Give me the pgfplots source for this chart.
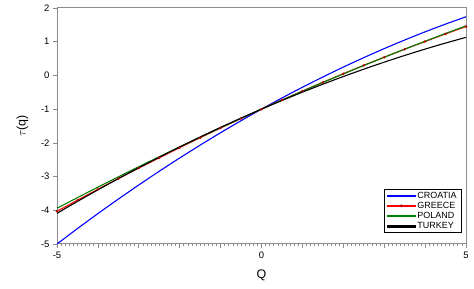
\documentclass[border=0pt]{standalone}
\usepackage{pgfplots}
\pgfplotsset{compat=1.18}
\usepackage{fontspec}
\setmainfont{Liberation Sans}
\begin{document}
\begin{tikzpicture}
\begin{axis}[
  name=ax,
  at={(0,0)}, anchor=south west,
  scale only axis, width=409bp, height=236bp,
  xmin=-5, xmax=5, ymin=-5, ymax=2,
  axis line style={draw=gray!90, line width=1pt},
  xtick={-5,-4,-3,-2,-1,0,1,2,3,4,5},
  xticklabels={-5,,,,,0,,,,,5},
  minor x tick num=9,
  ytick={-5,-4,-3,-2,-1,0,1,2},
  xtick pos=left, ytick pos=left,
  tick align=outside,
  major tick length=4bp, minor tick length=2.5bp,
  tick style={gray!90, line width=0.7pt},
  ticklabel style={font=\fontsize{9.5}{11}\selectfont},
  /pgf/number format/assume math mode=true,
  xlabel={Q}, ylabel={$\tau$(q)},
  label style={font=\fontsize{12.5}{14}\selectfont},
  xlabel style={yshift=-5bp},
  ylabel style={yshift=6bp},
  legend style={at={(rel axis cs:0.99,0.047)}, anchor=south east,
    font=\fontsize{9}{9}\selectfont, draw=black, line width=0.6pt,
    row sep=0pt, inner xsep=3pt, inner ysep=1.5pt,
    nodes={inner ysep=1.2pt}},
  legend cell align=left,
]
\addplot[blue, line width=1.1pt, smooth, forget plot] coordinates {
(-5,-5.000) (-4.5,-4.543) (-4,-4.099) (-3.5,-3.668) (-3,-3.249) (-2.5,-2.843)
(-2,-2.449) (-1.5,-2.068) (-1,-1.699) (-0.5,-1.343) (0,-1) (0.5,-0.669)
(1,-0.351) (1.5,-0.046) (2,0.247) (2.5,0.527) (3,0.795) (3.5,1.050)
(4,1.293) (4.5,1.523) (5,1.740)};
\addplot[red, line width=1.1pt, smooth, forget plot, mark=*, mark size=0.6pt, mark options={solid, fill=red!70!black, draw=red!70!black}] coordinates {
(-5,-4.030) (-4.5,-3.701) (-4,-3.378) (-3.5,-3.060) (-3,-2.748) (-2.5,-2.443)
(-2,-2.142) (-1.5,-1.848) (-1,-1.560) (-0.5,-1.277) (0,-1) (0.5,-0.729)
(1,-0.464) (1.5,-0.204) (2,0.050) (2.5,0.298) (3,0.540) (3.5,0.776)
(4,1.006) (4.5,1.231) (5,1.450)};
\addplot[green!50!black, line width=1.1pt, smooth, forget plot] coordinates {
(-5,-3.940) (-4.5,-3.625) (-4,-3.314) (-3.5,-3.009) (-3,-2.708) (-2.5,-2.412)
(-2,-2.120) (-1.5,-1.833) (-1,-1.550) (-0.5,-1.273) (0,-1) (0.5,-0.731)
(1,-0.468) (1.5,-0.209) (2,0.044) (2.5,0.294) (3,0.538) (3.5,0.779)
(4,1.014) (4.5,1.245) (5,1.470)};
\addplot[black, line width=1.1pt, smooth, forget plot] coordinates {
(-5,-4.090) (-4.5,-3.738) (-4,-3.395) (-3.5,-3.062) (-3,-2.739) (-2.5,-2.425)
(-2,-2.121) (-1.5,-1.826) (-1,-1.541) (-0.5,-1.266) (0,-1) (0.5,-0.744)
(1,-0.497) (1.5,-0.260) (2,-0.033) (2.5,0.185) (3,0.393) (3.5,0.592)
(4,0.781) (4.5,0.960) (5,1.130)};
\addlegendimage{legend image code/.code={\fill[blue] (0bp,-0.75bp) rectangle (28bp,0.75bp);}}
\addlegendentry{CROATIA}
\addlegendimage{legend image code/.code={\fill[red] (0bp,-0.75bp) rectangle (28bp,0.75bp); \fill[red!70!black] (14bp,0bp) circle (1.1pt);}}
\addlegendentry{GREECE}
\addlegendimage{legend image code/.code={\fill[green!50!black] (0bp,-0.75bp) rectangle (28bp,0.75bp);}}
\addlegendentry{POLAND}
\addlegendimage{legend image code/.code={\fill[black] (0bp,-0.75bp) rectangle (28bp,0.75bp);}}
\addlegendentry{TURKEY}
\end{axis}
\path ([xshift=-57bp,yshift=-45bp]ax.south west) rectangle ([xshift=8bp,yshift=8bp]ax.north east);
\end{tikzpicture}
\end{document}
